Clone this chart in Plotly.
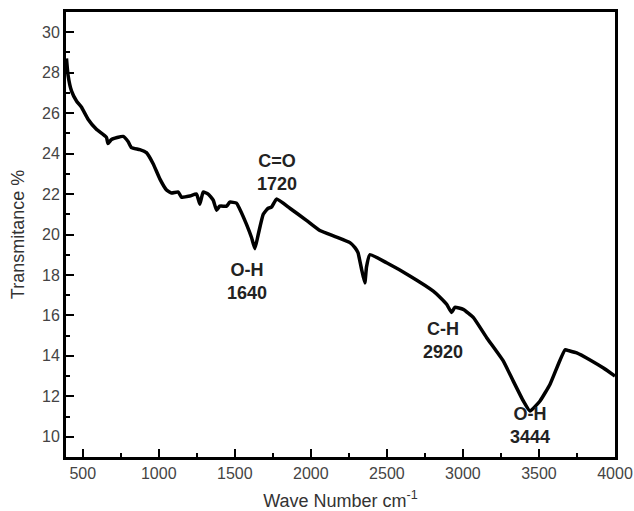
import plotly.graph_objects as go

wavenumber = [393, 403, 426, 459, 491, 535, 590, 656, 666, 689, 765, 798, 820, 875, 919,
              963, 1007, 1051, 1084, 1128, 1149, 1204, 1248, 1270, 1292, 1325, 1358, 1380,
              1401, 1446, 1467, 1511, 1533, 1577, 1610, 1632, 1654, 1687, 1719, 1741, 1774,
              1862, 1971, 2059, 2160, 2257, 2290, 2310, 2333, 2355, 2366, 2388, 2498, 2651,
              2805, 2849, 2893, 2925, 2947, 3002, 3068, 3156, 3265, 3331, 3397, 3441, 3507,
              3573, 3628, 3672, 3700, 3748, 3836, 3924, 4000]
transmittance = [28.7, 27.9, 27.1, 26.6, 26.3, 25.7, 25.2, 24.8, 24.5, 24.7, 24.85, 24.6, 24.3,
                 24.2, 24.05, 23.5, 22.75, 22.2, 22.05, 22.1, 21.85, 21.9, 22.0, 21.5, 22.1,
                 22.0, 21.7, 21.2, 21.4, 21.4, 21.6, 21.55, 21.25, 20.5, 19.85, 19.3, 20.0,
                 21.0, 21.3, 21.35, 21.75, 21.3, 20.7, 20.2, 19.9, 19.6, 19.35, 19.1, 18.3,
                 17.6, 18.4, 19.0, 18.6, 17.95, 17.2, 16.9, 16.55, 16.15, 16.4, 16.3, 15.9,
                 14.9, 13.75, 12.75, 11.77, 11.27, 11.77, 12.6, 13.6, 14.3, 14.25, 14.15,
                 13.8, 13.4, 13.0]

label_text = ["C=O<br>1720", "O-H<br>1640", "C-H<br>2920", "O-H<br>3444"]
label_x = [1776, 1579, 2868, 3441]
label_y = [23.05, 17.7, 14.75, 10.55]

x_ticks = [500, 1000, 1500, 2000, 2500, 3000, 3500, 4000]
y_ticks = [10, 12, 14, 16, 18, 20, 22, 24, 26, 28, 30]

FONT = "Liberation Sans, Arial, sans-serif"

fig = go.Figure()
fig.add_trace(go.Scatter(x=wavenumber, y=transmittance, mode="lines",
                         line=dict(color="black", width=3.5, shape="spline", smoothing=0.4),
                         showlegend=False))

for t, x, y in zip(label_text, label_x, label_y):
    fig.add_annotation(x=x, y=y, text="<b>" + t + "</b>", showarrow=False,
                       font=dict(family=FONT, size=18, color="#222"),
                       xanchor="center", yanchor="middle")

axis_common = dict(showline=True, linecolor="black", linewidth=3, mirror=True,
                   ticks="inside", tickcolor="black", tickwidth=2, ticklen=8,
                   showgrid=False, zeroline=False, automargin=False,
                   tickfont=dict(family=FONT, size=16, color="#444"))

fig.update_xaxes(range=[390, 4000], tickvals=x_ticks,
                 minor=dict(ticks="inside", dtick=250, tick0=0, ticklen=4, tickwidth=2, tickcolor="black"),
                 title=dict(text="Wave Number cm<sup>-1</sup>", font=dict(family=FONT, size=18, color="#333"),
                            standoff=14),
                 **axis_common)
fig.update_yaxes(range=[9, 31], tickvals=y_ticks,
                 minor=dict(ticks="inside", dtick=1, tick0=0, ticklen=4, tickwidth=2, tickcolor="black"),
                 title=dict(text="Transmitance %", font=dict(family=FONT, size=18, color="#333"),
                            standoff=13),
                 **axis_common)

fig.update_layout(width=634, height=511, margin=dict(l=66, r=19, t=12, b=54),
                  plot_bgcolor="white", paper_bgcolor="white")

fig.write_html("out.html")
